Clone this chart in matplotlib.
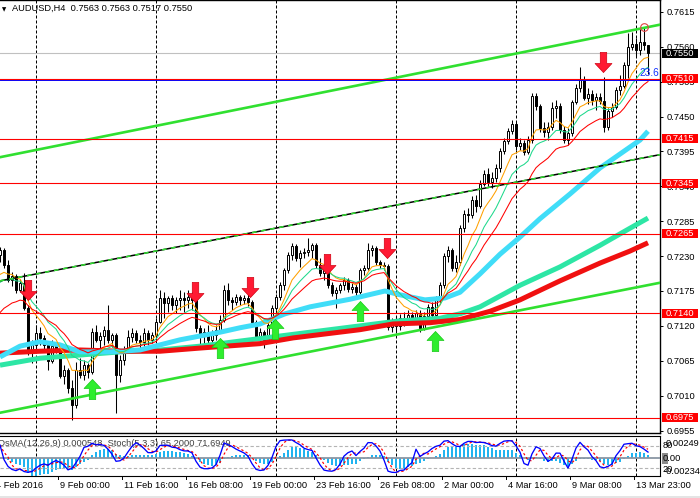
import numpy as np
import pandas as pd
import matplotlib
matplotlib.use("Agg")
import matplotlib.pyplot as plt
from matplotlib.path import Path
from matplotlib.patches import Rectangle

plt.rcParams['font.family'] = ['Liberation Sans', 'DejaVu Sans']

# AUDUSD H4 candles (4 Feb 2016 .. 14 Mar 2016)
opens = [
    .7232, .7240, .7216, .7192, .7199, .7177, .7187, .7148, .7079, .7090,
    .7109, .7101, .7090, .7065, .7088, .7082, .7041, .7050, .7022, .6995,
    .7050, .7042, .7058, .7047, .7110, .7098, .7104, .7114, .7098, .7105,
    .7042, .7066, .7082, .7102, .7109, .7098, .7095, .7109, .7098, .7105,
    .7126, .7164, .7156, .7164, .7153, .7161, .7164, .7161, .7166, .7161,
    .7117, .7105, .7110, .7098, .7105, .7114, .7129, .7177, .7161, .7158,
    .7166, .7161, .7164, .7158, .7126, .7104, .7110, .7098, .7121, .7148,
    .7166, .7184, .7208, .7232, .7246, .7227, .7235, .7236, .7240, .7248,
    .7216, .7203, .7208, .7184, .7172, .7177, .7184, .7192, .7178, .7181,
    .7173, .7208, .7211, .7240, .7243, .7221, .7216, .7214, .7118, .7126,
    .7120, .7132, .7126, .7137, .7129, .7140, .7117, .7136, .7150, .7137,
    .7161, .7184, .7230, .7240, .7211, .7221, .7274, .7296, .7295, .7318,
    .7309, .7344, .7360, .7347, .7353, .7369, .7396, .7412, .7427, .7438,
    .7403, .7408, .7394, .7413, .7483, .7467, .7432, .7426, .7434, .7464,
    .7467, .7429, .7413, .7424, .7473, .7495, .7508, .7479, .7486, .7476,
    .7481, .7475, .7434, .7459, .7465, .7492, .7498, .7531, .7560, .7565,
    .7555, .7568, .7563]
highs = [
    .7244, .7243, .7224, .7205, .7202, .7194, .7203, .7153, .7098, .7121,
    .7118, .7105, .7096, .7098, .7093, .7085, .7058, .7054, .7035, .7063,
    .7069, .7066, .7061, .7117, .7121, .7110, .7120, .7153, .7109, .7109,
    .7074, .7088, .7114, .7117, .7114, .7105, .7117, .7114, .7110, .7132,
    .7177, .7173, .7167, .7169, .7166, .7177, .7173, .7177, .7173, .7167,
    .7121, .7117, .7121, .7114, .7121, .7137, .7184, .7187, .7166, .7170,
    .7169, .7169, .7170, .7161, .7129, .7117, .7114, .7126, .7153, .7170,
    .7189, .7211, .7236, .7251, .7249, .7240, .7243, .7259, .7251, .7251,
    .7227, .7214, .7211, .7189, .7181, .7187, .7197, .7195, .7187, .7186,
    .7211, .7216, .7251, .7248, .7246, .7224, .7221, .7218, .7132, .7136,
    .7139, .7142, .7145, .7142, .7145, .7145, .7142, .7154, .7158, .7167,
    .7189, .7235, .7246, .7243, .7232, .7279, .7302, .7306, .7325, .7326,
    .7350, .7366, .7369, .7363, .7375, .7400, .7416, .7432, .7445, .7442,
    .7416, .7413, .7419, .7487, .7487, .7470, .7442, .7442, .7473, .7476,
    .7472, .7435, .7432, .7476, .7501, .7528, .7514, .7495, .7492, .7487,
    .7487, .7512, .7464, .7472, .7497, .7516, .7536, .7582, .7583, .7574,
    .7590, .7591, .7563]
lows = [
    .7221, .7211, .7189, .7183, .7172, .7173, .7145, .7074, .7061, .7082,
    .7090, .7079, .7050, .7061, .7077, .7038, .7028, .7014, .6972, .6990,
    .7038, .7035, .7038, .7044, .7095, .7085, .7090, .7093, .7087, .6983,
    .7031, .7058, .7079, .7095, .7093, .7085, .7088, .7090, .7093, .7098,
    .7124, .7132, .7142, .7145, .7140, .7145, .7142, .7148, .7145, .7110,
    .7090, .7088, .7090, .7085, .7098, .7110, .7126, .7153, .7145, .7153,
    .7153, .7154, .7151, .7121, .7098, .7095, .7085, .7095, .7118, .7145,
    .7161, .7177, .7203, .7224, .7222, .7213, .7227, .7230, .7227, .7211,
    .7199, .7192, .7180, .7167, .7148, .7172, .7177, .7173, .7172, .7167,
    .7170, .7200, .7208, .7230, .7216, .7211, .7208, .7114, .7110, .7110,
    .7114, .7120, .7123, .7123, .7126, .7110, .7114, .7132, .7129, .7132,
    .7154, .7180, .7221, .7206, .7205, .7216, .7268, .7284, .7290, .7299,
    .7306, .7341, .7341, .7338, .7347, .7363, .7391, .7407, .7423, .7397,
    .7397, .7389, .7391, .7408, .7461, .7426, .7418, .7413, .7429, .7448,
    .7424, .7408, .7405, .7419, .7470, .7489, .7476, .7470, .7468, .7461,
    .7470, .7426, .7429, .7449, .7462, .7484, .7495, .7511, .7555, .7546,
    .7547, .7555, .7517]
closes = [
    .7240, .7216, .7192, .7199, .7177, .7187, .7148, .7079, .7090, .7109,
    .7101, .7090, .7065, .7088, .7082, .7041, .7050, .7022, .6995, .7050,
    .7042, .7058, .7047, .7110, .7098, .7104, .7114, .7098, .7105, .7042,
    .7066, .7082, .7102, .7109, .7098, .7095, .7109, .7098, .7105, .7126,
    .7164, .7156, .7164, .7153, .7161, .7164, .7161, .7166, .7161, .7117,
    .7105, .7110, .7098, .7105, .7114, .7129, .7177, .7161, .7158, .7166,
    .7161, .7164, .7158, .7126, .7104, .7110, .7098, .7121, .7148, .7166,
    .7184, .7208, .7232, .7246, .7227, .7235, .7236, .7240, .7248, .7216,
    .7203, .7208, .7184, .7172, .7177, .7184, .7192, .7178, .7181, .7173,
    .7208, .7211, .7240, .7243, .7221, .7216, .7214, .7118, .7126, .7120,
    .7132, .7126, .7137, .7129, .7140, .7117, .7136, .7150, .7137, .7161,
    .7184, .7230, .7240, .7211, .7221, .7274, .7296, .7295, .7318, .7309,
    .7344, .7360, .7347, .7353, .7369, .7396, .7412, .7427, .7438, .7403,
    .7408, .7394, .7413, .7483, .7467, .7432, .7426, .7434, .7464, .7467,
    .7429, .7413, .7424, .7473, .7495, .7508, .7479, .7486, .7476, .7481,
    .7475, .7434, .7459, .7465, .7492, .7498, .7531, .7560, .7565, .7555,
    .7568, .7563, .7550]

# fast EMAs 8/13/21 and the value each had just before the first bar
ema_periods = [8, 13, 21]
ema_start = [0.7190, 0.7180, 0.7131]
# MACD(12,26) ema values before first bar
macd_start = [0.7180, 0.7125]

# slow moving averages (55 / 144 / 233)
ma55_bars = [0, 5, 10, 15, 20, 27.5, 35, 40, 45, 50, 55, 60, 65, 71.25, 77.5, 87.5,
             96.25, 100, 106.25, 111.25, 115, 120, 125, 130, 135, 142.5, 150, 155, 160, 162]
ma55_vals = [0.7071, 0.7088, 0.7095, 0.7090, 0.7079, 0.7079, 0.7082, 0.7090, 0.7098, 0.7104,
             0.7110, 0.7117, 0.7123, 0.7139, 0.7150, 0.7162, 0.7175, 0.7169, 0.7161, 0.7164,
             0.7173, 0.7202, 0.7233, 0.7260, 0.7289, 0.7328, 0.7369, 0.7391, 0.7413, 0.7427]
ma144_bars = [0, 10, 20, 30, 40, 50, 60, 70, 80, 90, 100, 110, 115, 120, 130, 140, 150, 157.5, 162]
ma144_vals = [0.7058, 0.7069, 0.7074, 0.7079, 0.7082, 0.7088, 0.7096, 0.7104, 0.7112, 0.7120,
              0.7128, 0.7132, 0.7139, 0.7150, 0.7184, 0.7213, 0.7247, 0.7274, 0.7290]
ma233_bars = [0, 10, 20, 30, 40, 50, 65, 73.25, 90, 98.25, 107.5, 115, 122.5, 130, 140, 150, 157.5, 162]
ma233_vals = [0.7077, 0.7080, 0.7082, 0.7080, 0.7080, 0.7085, 0.7092, 0.7101, 0.7114, 0.7123,
              0.7125, 0.7130, 0.7143, 0.7161, 0.7191, 0.7219, 0.7238, 0.7251]

# drawn objects
levels = [0.7510, 0.7415, 0.7345, 0.7265, 0.7140, 0.6975]
bid = 0.7550
fibo_level = 0.7510
chan_bars = [0, 165]
chan_top = [0.7386, 0.7595]
chan_mid = [0.7191, 0.7390]
chan_low = [0.6983, 0.7188]
sell_bars = [7, 48.75, 62.5, 81.75, 96.75, 150.75]
sell_prices = [0.7177, 0.7173, 0.7181, 0.7218, 0.7243, 0.7536]
buy_bars = [23, 55, 68.75, 90, 108.75]
buy_prices = [0.7020, 0.7085, 0.7115, 0.7144, 0.7096]
top_mark = (161.1, 0.7592)

price_ticks = [0.7615, 0.7560, 0.7505, 0.7450, 0.7395, 0.7340, 0.7285,
               0.7230, 0.7175, 0.7120, 0.7065, 0.7010, 0.6955]
grid_bars = [9, 39, 69, 99, 129, 159]
time_bars = [-1, 15, 31, 47, 63, 79, 95, 111, 127, 143, 159]
time_labels = ['4 Feb 2016', '9 Feb 00:00', '11 Feb 16:00', '16 Feb 08:00', '19 Feb 00:00',
               '23 Feb 16:00', '26 Feb 08:00', '2 Mar 00:00', '4 Mar 16:00', '9 Mar 08:00',
               '13 Mar 23:00']


def ema(values, period, start):
    k = 2.0 / (period + 1)
    out = []
    prev = start
    for v in values:
        prev = prev + k * (v - prev)
        out.append(prev)
    return np.array(out)


o, h, l, c = map(np.array, (opens, highs, lows, closes))
x = np.arange(len(c))

# indicators for the lower window
macd = ema(c, 12, macd_start[0]) - ema(c, 26, macd_start[1])
signal = pd.Series(macd).rolling(9, min_periods=1).mean().values
osma = macd - signal
hh = pd.Series(h).rolling(5, min_periods=1).max()
ll = pd.Series(l).rolling(5, min_periods=1).min()
num = (pd.Series(c) - ll).rolling(3, min_periods=1).sum()
den = (hh - ll).rolling(3, min_periods=1).sum()
stoch_main = (100 * num / den).values
stoch_sig = pd.Series(stoch_main).rolling(3, min_periods=1).mean().values

W, H = 700, 498
fig = plt.figure(figsize=(7, 4.98), dpi=100)
ax = fig.add_axes([0, 65 / H, 660 / W, 433 / H])
sub = fig.add_axes([0, 22 / H, 660 / W, 40 / H])
stax = sub.twinx()
FS = 6.7

# ---- main window
ax.set_xlim(0, 165)
ax.set_ylim(0.695106, 0.76339)
for i in grid_bars:
    ax.axvline(i, color='black', lw=0.72, ls=(0, (3, 2)), zorder=1)
ax.axhline(bid, color='#C0C0C0', lw=0.8, zorder=1)

up = c >= o
ax.vlines(x, l, h, color='black', lw=0.75, zorder=3)
ax.bar(x[up], c[up] - o[up], bottom=o[up], width=0.62, color='white',
       edgecolor='black', lw=0.7, zorder=4)
ax.bar(x[~up], o[~up] - c[~up], bottom=c[~up], width=0.62, color='black',
       edgecolor='black', lw=0.7, zorder=4)

ax.plot(ma144_bars, ma144_vals, color='#2DE6A5', lw=3.6, solid_capstyle='butt', zorder=5)
ax.plot(ma233_bars, ma233_vals, color='#F01010', lw=3.6, solid_capstyle='butt', zorder=5.2)
ax.plot(ma55_bars, ma55_vals, color='#40DDF8', lw=3.6, solid_capstyle='butt', zorder=5.4)

for per, st, col in zip(ema_periods, ema_start, ['#FFA000', '#1ED98C', '#FF0000']):
    ax.plot(x, ema(c, per, st), color=col, lw=0.75, zorder=6)

ax.plot(chan_bars, chan_top, color='#30E030', lw=1.9, zorder=8)
ax.plot(chan_bars, chan_low, color='#30E030', lw=1.9, zorder=8)
ax.plot(chan_bars, chan_mid, color='black', lw=1.1, zorder=8)
ax.plot(chan_bars, chan_mid, color='#30E030', lw=1.1, ls=(0, (3, 3)), zorder=8.1)

ax.axhline(fibo_level - 0.0002, color='#0000FF', lw=0.7, zorder=8.4)
for lv in levels:
    ax.axhline(lv, color='#FF0000', lw=0.8, zorder=8.5)
ax.annotate('23.6', xy=(1, fibo_level), xycoords=ax.get_yaxis_transform(),
            xytext=(-1, 1), textcoords='offset pixels', ha='right', va='bottom',
            color='#1030FF', fontsize=FS + 0.6, zorder=9)

down = Path([(-0.32, 1), (0.32, 1), (0.32, -0.1), (0.84, -0.1), (0, -1),
             (-0.84, -0.1), (-0.32, -0.1), (-0.32, 1)])
upw = Path([(-0.32, -1), (0.32, -1), (0.32, 0.1), (0.84, 0.1), (0, 1),
            (-0.84, 0.1), (-0.32, 0.1), (-0.32, -1)])
ax.plot(sell_bars, sell_prices, ls='none', marker=down, ms=14.5, mfc='#FF1A33',
        mec='#D00010', mew=0.5, zorder=10)
ax.plot(buy_bars, buy_prices, ls='none', marker=upw, ms=14.5, mfc='#2EEE2E',
        mec='#18C818', mew=0.5, zorder=10)
ax.plot(*top_mark, ls='none', marker='o', ms=5.5, mfc='none', mec='#E04040',
        mew=0.8, zorder=10)

ax.yaxis.tick_right()
ax.set_yticks(price_ticks)
ax.set_yticklabels([f'{p:.4f}' for p in price_ticks])
ax.tick_params(axis='y', direction='out', length=2.2, width=0.7, pad=2.5,
               labelsize=FS, colors='black')
ax.set_xticks([])
ax.spines['left'].set_visible(False)
for s in ('right', 'top', 'bottom'):
    ax.spines[s].set_linewidth(1.0)

ytr = ax.get_yaxis_transform()
for lv, col in [(p, '#FF0000') for p in levels] + [(bid, 'black')]:
    ax.add_patch(Rectangle((1.003, lv - 0.00072), 0.054, 0.00144, transform=ytr,
                           facecolor=col, edgecolor='none', clip_on=False, zorder=11))
    ax.text(1.0091, lv, f'{lv:.4f}', transform=ytr, color='white', fontsize=FS,
            ha='left', va='center', clip_on=False, zorder=12)

fig.text(2 / W, 1 - 9.5 / H, '\u25bc', fontsize=4, family='DejaVu Sans', va='center')
fig.text(12 / W, 1 - 8.5 / H, 'AUDUSD,H4  0.7563 0.7563 0.7517 0.7550',
         fontsize=FS, va='center', ha='left')

# ---- indicator window: zero line 22 px below the top
px = np.percentile(np.abs(osma), 95) / 14.0
sub.set_xlim(0, 165)
sub.set_ylim(-18 * px, 22 * px)
stax.set_ylim(-1.8, 107.3)
for i in grid_bars:
    sub.axvline(i, color='black', lw=0.72, ls=(0, (3, 2)), zorder=1)
sub.bar(x, osma, width=0.65, color='#20B4F0', zorder=2)
sub.axhline(0, color='#8A96A4', lw=1.3, zorder=3)
stax.axhline(80, color='#B4B4B4', lw=0.8, ls=(0, (3, 2)))
stax.axhline(20, color='#B4B4B4', lw=0.8, ls=(0, (3, 2)))
stax.plot(x, stoch_sig, color='#FF0000', lw=0.85, ls=(0, (2, 2)))
stax.plot(x, stoch_main, color='#0000FF', lw=0.95)
sub.text(-2 / 660, 0.82, 'OsMA(12,26,9) 0.000548  Stoch(5,3,3) 65.2000 71.6949',
         transform=sub.transAxes, fontsize=FS, color='#404040', ha='left',
         va='center', zorder=1.5)

for a in (sub, stax):
    a.set_xticks([])
    a.set_yticks([])
    a.spines['left'].set_visible(False)
for s in stax.spines.values():
    s.set_visible(False)

fig.text(663 / W, 1 - 445 / H, '80', fontsize=FS, va='center')
fig.text(666 / W, 1 - 443 / H, '0.00249', fontsize=FS, va='center')
fig.patches.append(Rectangle((662 / W, 1 - 464 / H), 6 / W, 11 / H, transform=fig.transFigure,
                             facecolor='#8A8A8A', edgecolor='none'))
fig.text(663 / W, 1 - 458.5 / H, '0.00', fontsize=FS, va='center')
fig.text(663 / W, 1 - 469 / H, '20', fontsize=FS, va='center')
fig.text(664 / W, 1 - 471 / H, '-0.00234', fontsize=FS, va='center')

# time axis
ttr = matplotlib.transforms.blended_transform_factory(sub.transData, fig.transFigure)
for b, lab in zip(time_bars, time_labels):
    sub.plot([b - 0.5, b - 0.5], [1 - 476 / H, 1 - 479 / H], color='black', lw=0.7,
             transform=ttr, clip_on=False)
    sub.text(b, 1 - 485.5 / H, lab, transform=ttr, fontsize=FS, ha='left',
             va='center', clip_on=False)

fig.patches.append(Rectangle((0, 0), 1, 2 / H, transform=fig.transFigure,
                             facecolor='#E4E4E4', edgecolor='none'))

fig.savefig('out.png', dpi=100, facecolor='white')
